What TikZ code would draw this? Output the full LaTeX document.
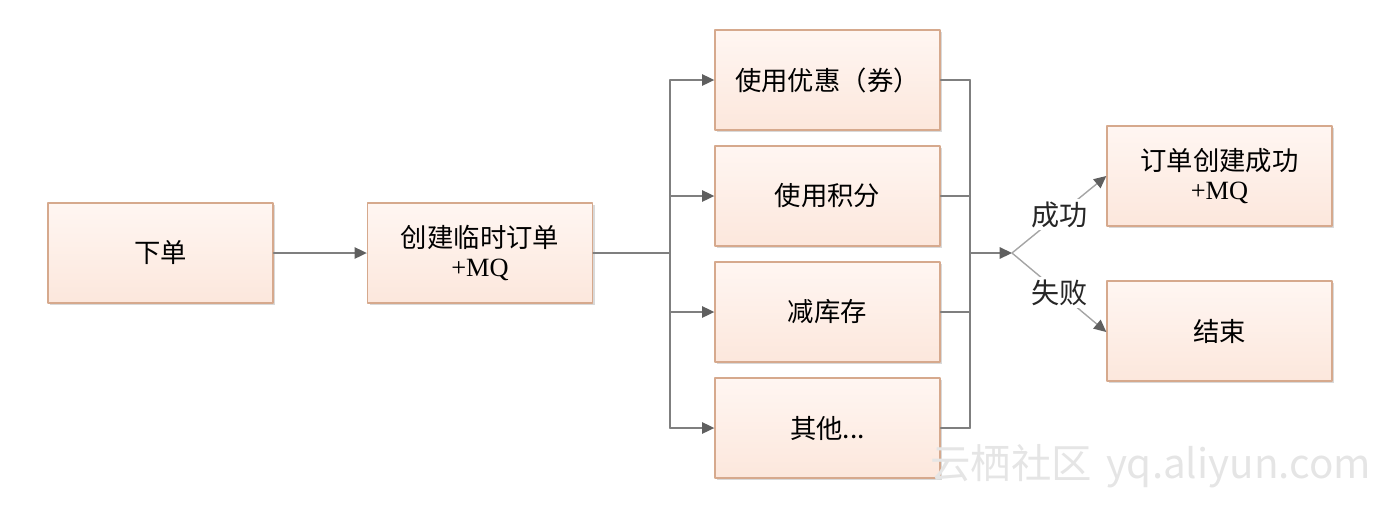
\documentclass[tikz,border=0pt]{standalone}
\usepackage{fontspec}
\setmainfont{Noto Sans CJK SC}
\newfontfamily\mqfont{Liberation Serif}
\newfontfamily\wmfont{Noto Sans CJK SC}
\usepackage{tikz}
\usetikzlibrary{arrows.meta,calc,shadows}

\definecolor{boxedge}{HTML}{D6A98D}
\definecolor{boxtop}{HTML}{FFF6F2}
\definecolor{boxbot}{HTML}{FCE7DC}
\definecolor{wire}{HTML}{7F7F7F}
\definecolor{tipgray}{HTML}{5F5F5F}

\tikzset{
  stepbox/.style={draw=boxedge, line width=0.8pt, top color=boxtop, bottom color=boxbot,
    minimum width=4.5cm, minimum height=2cm, align=center, inner sep=0pt,
    font=\fontsize{15}{16.5}\selectfont,
    drop shadow={opacity=0.15, shadow xshift=1.2pt, shadow yshift=-1.2pt, fill=black}},
  wireline/.style={draw=wire, line width=0.9pt},
  arr/.style={wireline, -{Triangle[length=7pt, width=6.5pt, color=tipgray, fill=tipgray]}},
  faint/.style={draw=wire!70, line width=0.8pt, -{Triangle[length=7pt, width=6.5pt, color=tipgray, fill=tipgray]}},
  lab/.style={fill=white, inner sep=1.5pt, font=\fontsize{16}{18}\selectfont, text=black!85}
}

\begin{document}
\begin{tikzpicture}[x=0.02cm, y=-0.02cm, >=Latex, line cap=round, line join=round]
            \useasboundingbox (0,0) rectangle (1400,508);

            \node[stepbox] (order) at (160.5,253) {下单};
            \node[stepbox] (temp) at (480,253) {创建临时订单\\{\mqfont +MQ}};
            \node[stepbox] (coupon) at (827.5,80) {使用优惠（券）};
            \node[stepbox] (points) at (827.5,196) {使用积分};
            \node[stepbox] (stock) at (827.5,312) {减库存};
            \node[stepbox] (other) at (827.5,428) {其他...};
            \node[stepbox] (done) at (1219.5,176) {订单创建成功\\{\mqfont +MQ}};
            \node[stepbox] (finish) at (1219.5,331) {结束};

            \coordinate (busL) at (670,253);
            \coordinate (busR) at (970,253);
            \coordinate (merge) at (1012,253);

            \draw[arr] (order) -- (temp);
            \draw[wireline] (temp.east) -- (busL);
            \draw[wireline] (busL |- coupon) -- (busL |- other);
            \foreach \n in {coupon,points,stock,other}
                \draw[arr] (busL |- \n) -- (\n.west);

            \foreach \n in {coupon,points,stock,other}
                \draw[wireline] (\n.east) -- (busR |- \n);
            \draw[wireline] (busR |- coupon) -- (busR |- other);
            \draw[arr] (busR) -- (merge);

            \draw[faint] (merge) -- node[lab] (okLab) {成功} (done.west);
            \draw[faint] (merge) -- node[lab] (failLab) {失败} ($(finish.west)+(0,1)$);

            \node[font=\wmfont\fontsize{23}{23}\selectfont, text=black!10, anchor=west, inner sep=0pt] (mark) at (930,466) {云栖社区\hspace{8pt}yq.aliyun.com};

        \end{tikzpicture}
\end{document}
